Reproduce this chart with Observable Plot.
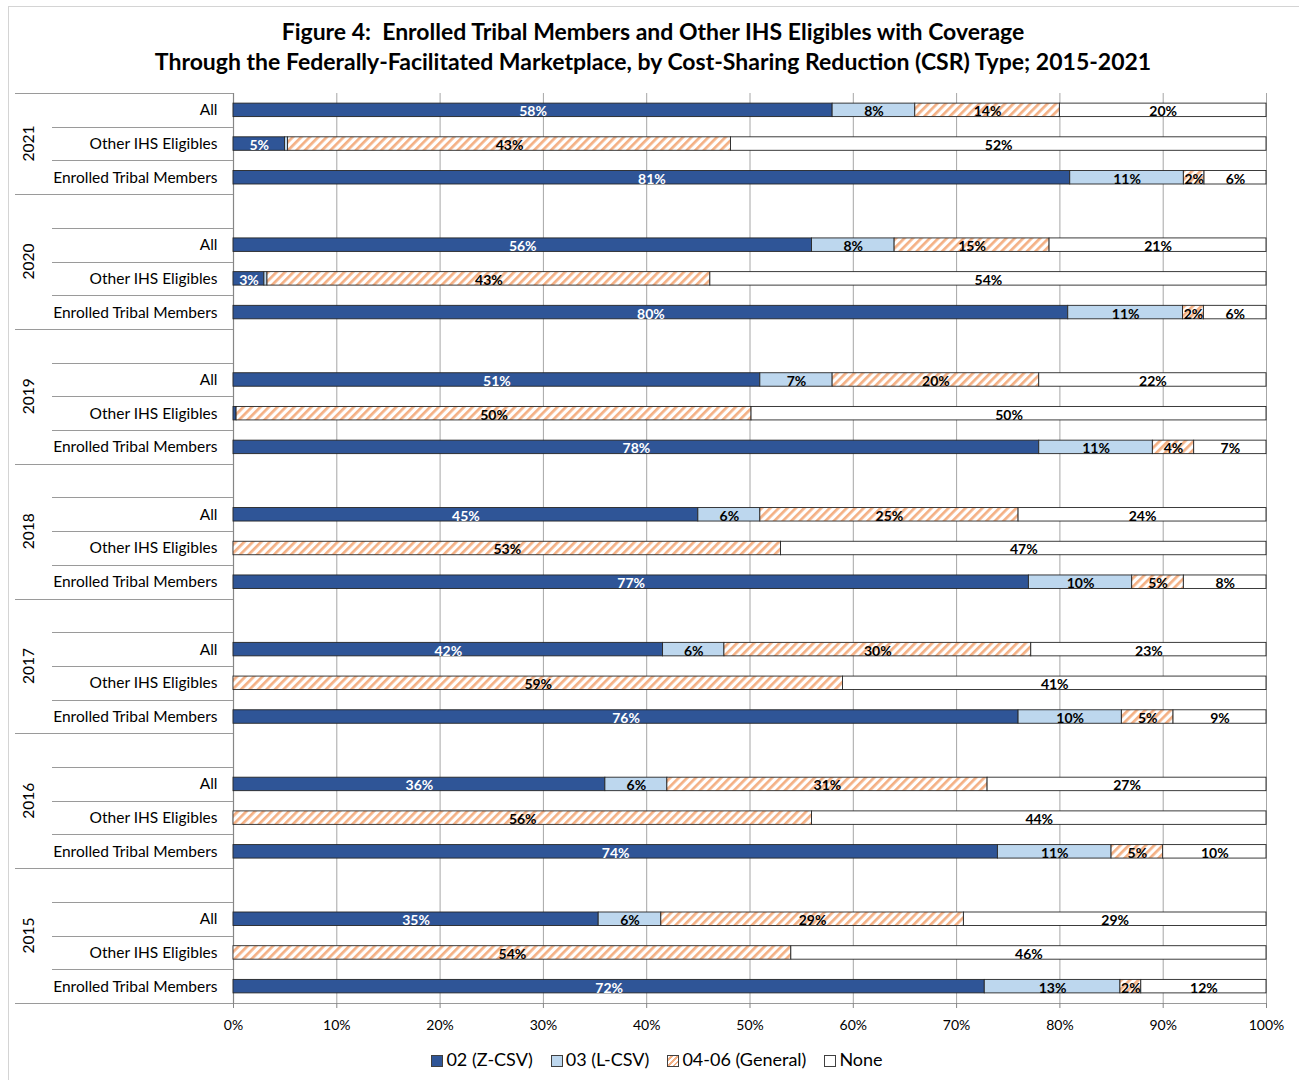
<!DOCTYPE html>
<html>
<head>
<meta charset="utf-8">
<script src="https://cdn.jsdelivr.net/npm/d3@7"></script>
<script src="https://cdn.jsdelivr.net/npm/@observablehq/plot@0.6"></script>
<style>
  body { margin: 0; background: #fff; font-family: Lato, "Open Sans", sans-serif; color: #000; }
  #frame { position: absolute; left: 8px; top: 6px; width: 1320px; height: 1100px; border: 1px solid #d4d4d4; box-sizing: border-box; }
  #title { position: absolute; left: 0; top: 16px; width: 1306px; text-align: center; font-weight: bold; font-size: 23px; line-height: 30px; }
  #chart { position: absolute; left: 0; top: 80px; }
  #legend { position: absolute; top: 1048px; left: 0; width: 1314px; text-align: center; font-size: 18px; white-space: nowrap; }
  .item { display: inline-block; margin: 0 9px; }
  .sw { display: inline-block; width: 10px; height: 10px; border: 1px solid #404040; margin-right: 3px; vertical-align: -1px; }
</style>
</head>
<body>
<div id="frame"></div>
<div id="title">Figure 4:&nbsp; Enrolled Tribal Members and Other IHS Eligibles with Coverage<br>Through the Federally-Facilitated Marketplace, by Cost-Sharing Reduction (CSR) Type; 2015-2021</div>
<div id="chart"></div>
<div id="legend"></div>
<script>
// Years (top to bottom) and the three populations shown for each year
const years = [2021, 2020, 2019, 2018, 2017, 2016, 2015];
const groups = ["All", "Other IHS Eligibles", "Enrolled Tribal Members"];
const types = ["02 (Z-CSV)", "03 (L-CSV)", "04-06 (General)", "None"];

// Percent of enrollees by CSR type, ordered year by year: All, Other IHS Eligibles, Enrolled Tribal Members
const zCSV    = [58, 5, 81,   56, 3, 80,   51, 0.3, 78,   45, 0, 77,   42, 0, 76,   36, 0, 74,   35, 0, 72];
const lCSV    = [8, 0.3, 11,  8, 0.3, 11,  7, 0, 11,      6, 0, 10,    6, 0, 10,    6, 0, 11,    6, 0, 13];
const general = [14, 43, 2,   15, 43, 2,   20, 50, 4,     25, 53, 5,   30, 59, 5,   31, 56, 5,   29, 54, 2];
const none    = [20, 52, 6,   21, 54, 6,   22, 50, 7,     24, 47, 8,   23, 41, 9,   27, 44, 10,  29, 46, 12];

// x-axis tick labels (percent)
const xTicks = [0, 10, 20, 30, 40, 50, 60, 70, 80, 90, 100];

const fills = ["#2F5597", "#BDD7EE", "url(#hatch)", "#ffffff"];
const series = [zCSV, lCSV, general, none];

const key = (yr, g) => `${yr}|${g}`;
const keys = [];
years.forEach((yr, i) => {
  if (i > 0) keys.push(key(yr, ""));
  groups.forEach(g => keys.push(key(yr, g)));
});

const rows = [];
years.forEach((yr, i) => {
  groups.forEach((g, j) => {
    types.forEach((t, s) => {
      rows.push({key: key(yr, g), year: yr, group: g, type: t, value: series[s][i * 3 + j]});
    });
  });
});

const pct = d => d.value >= 1 ? `${d.value}%` : null;

// hatch pattern used by the 04-06 (General) segments
function hatchDefs() {
  const g = d3.create("svg:g");
  const p = g.append("defs").append("pattern")
    .attr("id", "hatch").attr("patternUnits", "userSpaceOnUse")
    .attr("width", 6).attr("height", 6).attr("patternTransform", "rotate(45)");
  p.append("rect").attr("width", 6).attr("height", 6).attr("fill", "#ffffff");
  p.append("rect").attr("width", 2.7).attr("height", 6).attr("fill", "#F4B084");
  return g.node();
}

// category separators and rotated year labels in the left margin
function labelArea(index, scales, values, dims) {
  const y = scales.y;
  const step = y(keys[1]) - y(keys[0]);
  const bw = step * 0.4;
  const topOf = k => y(k) + bw / 2 - step / 2;
  const bottomOf = k => y(k) + bw / 2 + step / 2;
  const L = dims.marginLeft;
  const R = dims.width - dims.marginRight;
  const g = d3.create("svg:g");
  const lines = [];
  years.forEach((yr, i) => {
    const ks = groups.map(gr => key(yr, gr));
    lines.push([topOf(ks[0]), i === 0 ? 15 : 52, L]);
    lines.push([bottomOf(ks[0]), 52, L]);
    lines.push([bottomOf(ks[1]), 52, L]);
    lines.push([bottomOf(ks[2]), 15, i === years.length - 1 ? R : L]);
    const top = i === 0 ? topOf(ks[0]) : topOf(key(yr, ""));
    const cy = (top + bottomOf(ks[2])) / 2;
    g.append("text")
      .attr("transform", `translate(28,${cy}) rotate(-90)`)
      .attr("text-anchor", "middle").attr("dominant-baseline", "central")
      .attr("font-size", 15.5).attr("fill", "#000")
      .text(yr);
  });
  g.selectAll("line.sep").data(lines).join("line")
    .attr("x1", d => d[1]).attr("x2", d => d[2])
    .attr("y1", d => Math.round(d[0]) + 0.5).attr("y2", d => Math.round(d[0]) + 0.5)
    .attr("stroke", "#9a9a9a").attr("stroke-width", 1.2);
  return g.node();
}

const chart = Plot.plot({
  width: 1299,
  height: 960,
  marginTop: 13,
  marginBottom: 37,
  marginLeft: 233,
  marginRight: 33,
  style: {fontFamily: "Lato, 'Open Sans', sans-serif", fontSize: "14px", color: "#000", background: "transparent"},
  x: {domain: [0, 1]},
  y: {domain: keys, paddingInner: 0.6, paddingOuter: 0.3, round: false},
  color: {domain: types, range: fills},
  marks: [
    hatchDefs,
    Plot.ruleX(xTicks.filter(v => v > 0).map(v => v / 100), {stroke: "#a6a6a6", strokeWidth: 1}),
    Plot.ruleX([0], {stroke: "#868686", strokeWidth: 1.2}),
    labelArea,
    Plot.barX(rows, Plot.stackX({
      x: "value", y: "key", fill: "type", z: "type",
      offset: "normalize",
      stroke: "#262626", strokeWidth: 0.9
    })),
    Plot.text(rows, Plot.stackX({
      x: "value", y: "key", z: "type", offset: "normalize",
      text: d => d.type === types[0] ? pct(d) : null,
      fill: "#ffffff", fontWeight: "bold", fontSize: 14, dy: 1.5
    })),
    Plot.text(rows, Plot.stackX({
      x: "value", y: "key", z: "type", offset: "normalize",
      text: d => d.type !== types[0] ? pct(d) : null,
      fill: "#000000", fontWeight: "bold", fontSize: 14, dy: 1.5
    })),
    Plot.axisX({
      ticks: xTicks.map(v => v / 100),
      tickFormat: d => `${Math.round(d * 100)}%`,
      tickSize: 5, tickPadding: 12, stroke: "#868686", fill: "#000", fontSize: 14,
      label: null
    }),
    Plot.axisY({
      tickSize: 0, tickPadding: 16, fontSize: 15.5, fill: "#000",
      tickFormat: k => k.split("|")[1],
      label: null
    })
  ]
});
document.getElementById("chart").appendChild(chart);

// legend
const legend = d3.select("#legend");
const swatchBg = [
  "#2F5597",
  "#BDD7EE",
  "repeating-linear-gradient(135deg, #ffffff 0 2px, #F4B084 2px 4px)",
  "#ffffff"
];
types.forEach((t, i) => {
  const item = legend.append("span").attr("class", "item");
  item.append("span").attr("class", "sw").style("background", swatchBg[i]);
  item.append("span").text(t);
});
</script>
</body>
</html>
